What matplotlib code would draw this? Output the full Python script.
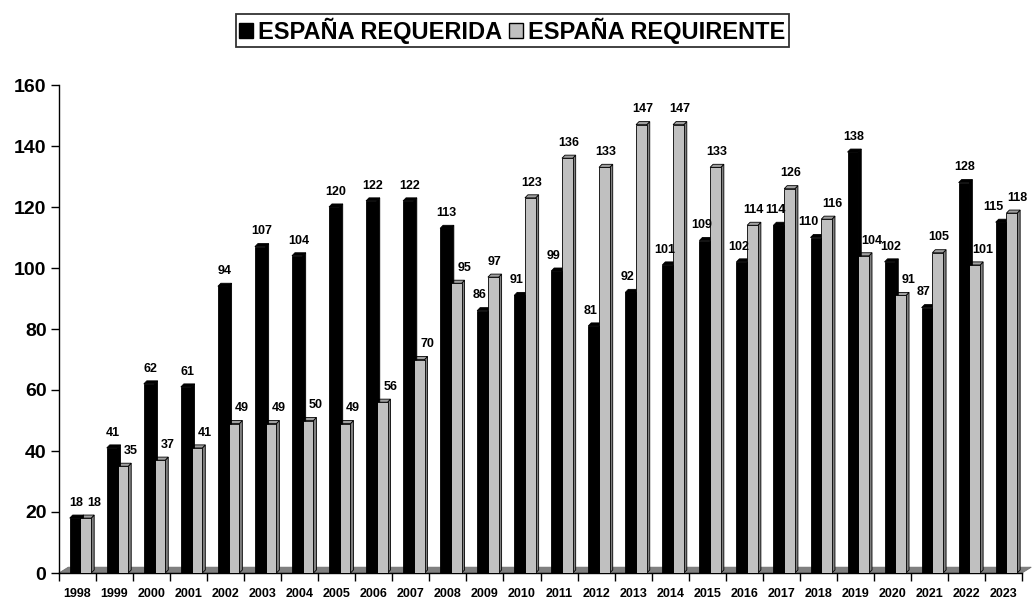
import matplotlib
matplotlib.use("Agg")
import matplotlib.pyplot as plt
from matplotlib.patches import Polygon, Patch

plt.rcParams['font.family'] = ['Liberation Sans', 'DejaVu Sans']
plt.rcParams['font.weight'] = 'bold'

years = [str(y) for y in range(1998, 2024)]
requerida = [18, 41, 62, 61, 94, 107, 104, 120, 122, 122, 113, 86, 91, 99, 81,
             92, 101, 109, 102, 114, 110, 138, 102, 87, 128, 115]
requirente = [18, 35, 37, 41, 49, 49, 50, 49, 56, 70, 95, 97, 123, 136, 133,
              147, 147, 133, 114, 126, 116, 104, 91, 105, 101, 118]
series_names = ["ESPAÑA REQUERIDA", "ESPAÑA REQUIRENTE"]

DPI = 100
fig = plt.figure(figsize=(10.35, 6.01), dpi=DPI)
ax = fig.add_axes([59/1035, 28/601, 963/1035, 488/601])
ax.set_xlim(0, len(years))
ax.set_ylim(0, 160)

n = len(years)
bw = 0.29
dx, dy = 0.08, 1.0
fdx, fdy = 0.25, 1.9

# floor
floor = Polygon([(0, 0), (n, 0), (n + fdx, fdy), (fdx, fdy)], closed=True,
                facecolor='#808080', edgecolor='#707070', lw=0.6, zorder=1, clip_on=False)
ax.add_patch(floor)

x0 = [i + 0.29 for i in range(n)]
x1 = [i + 0.29 + bw for i in range(n)]

def draw_3d(xs, vals, face, side, top, edge):
    ax.bar(xs, vals, width=bw, align='edge', color=face, edgecolor=edge, lw=0.6, zorder=3)
    for x, v in zip(xs, vals):
        ax.add_patch(Polygon([(x + bw, 0), (x + bw + dx, dy), (x + bw + dx, v + dy), (x + bw, v)],
                             closed=True, facecolor=side, edgecolor=edge, lw=0.6, zorder=2.5))
        ax.add_patch(Polygon([(x, v), (x + dx, v + dy), (x + bw + dx, v + dy), (x + bw, v)],
                             closed=True, facecolor=top, edgecolor=edge, lw=0.6, zorder=2.5))

draw_3d(x1, requirente, '#C0C0C0', '#808080', '#A0A0A0', 'black')
draw_3d(x0, requerida, 'black', 'black', 'black', 'black')

# value labels (offsets in pixels, placed like the reference to stay readable)
lab_fs = 9
digit_px = lab_fs * DPI / 72 * 0.556
px_per_cat = 963 / n
pt = 72 / DPI
for xb, xg, vb, vg in zip(x0, x1, requerida, requirente):
    if vb >= vg:
        ob, og = 1.0, 8.0
    else:
        ob, og = -3.0, 1.0
    if abs(vb - vg) < 7:
        wb = len(str(vb)) * digit_px
        wg = len(str(vg)) * digit_px
        sep = bw * px_per_cat + og - ob
        need = (wb + wg) / 2 + 3
        if sep < need:
            d = need - sep
            ob -= d / 2
            og += d / 2
    ax.annotate(str(vb), (xb + bw / 2, vb + dy), xytext=(ob * pt, 4.5), textcoords='offset points',
                ha='center', va='bottom', fontsize=lab_fs, fontweight='bold', zorder=5)
    ax.annotate(str(vg), (xg + bw / 2, vg + dy), xytext=(og * pt, 4.5), textcoords='offset points',
                ha='center', va='bottom', fontsize=lab_fs, fontweight='bold', zorder=5,
                annotation_clip=False)

ax.spines['top'].set_visible(False)
ax.spines['right'].set_visible(False)
ax.spines['left'].set_linewidth(1.0)
ax.spines['bottom'].set_linewidth(1.0)
ax.set_yticks(range(0, 161, 20))
ax.tick_params(axis='y', labelsize=14, length=6, direction='out', width=1, pad=3)
for lab in ax.get_yticklabels():
    lab.set_fontweight('bold')

ax.set_xticks(range(0, n + 1))
ax.set_xticklabels([])
ax.tick_params(axis='x', which='major', length=6, width=1, direction='out')
ax.set_xticks([i + 0.5 for i in range(n)], minor=True)
ax.set_xticklabels(years, minor=True, fontsize=9, fontweight='bold')
ax.tick_params(axis='x', which='minor', length=0, pad=11)

handles = [Patch(facecolor='black', edgecolor='black'),
           Patch(facecolor='#C0C0C0', edgecolor='black')]
leg = fig.legend(handles, series_names, loc='upper center', bbox_to_anchor=(0.495, 0.977),
                 ncol=2, frameon=True, fancybox=False, edgecolor='black',
                 prop={'size': 17, 'weight': 'bold'}, handlelength=0.6, handleheight=0.6,
                 handletextpad=0.2, columnspacing=0.3, borderpad=0.15, borderaxespad=0)
leg.get_frame().set_linewidth(1.3)

fig.savefig('out.png', dpi=DPI)
